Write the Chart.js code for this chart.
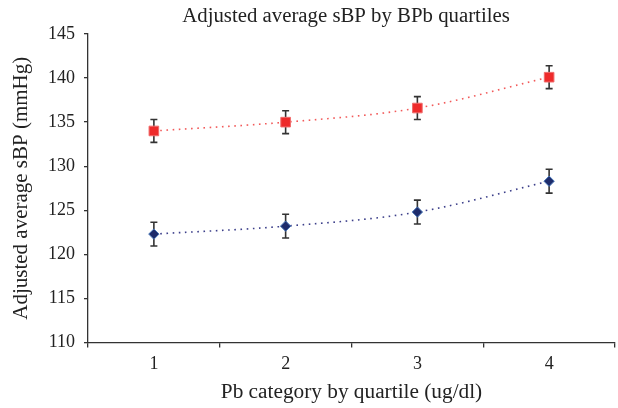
<!DOCTYPE html>
<html>
<head>
<meta charset="utf-8">
<script src="https://cdn.jsdelivr.net/npm/chart.js@4/dist/chart.umd.min.js"></script>
<style>
  html, body { margin: 0; padding: 0; background: #fff; }
  #wrap { width: 618px; height: 408px; position: relative; }
</style>
</head>
<body>
<div id="wrap"><canvas id="c" width="618" height="408"></canvas></div>
<script>
const categories = ['1', '2', '3', '4'];
const highSeries = [134.0, 135.0, 136.6, 140.1];
const highErr = [1.3, 1.3, 1.3, 1.3];
const lowSeries = [122.3, 123.2, 124.8, 128.3];
const lowErr = [1.35, 1.35, 1.35, 1.35];
const yTicks = [110, 115, 120, 125, 130, 135, 140, 145];
const titleText = 'Adjusted average sBP by BPb quartiles';
const yTitle = 'Adjusted average sBP (mmHg)';
const xTitle = 'Pb category by quartile (ug/dl)';

const FONT = '"Liberation Serif", "DejaVu Serif", serif';

const errorBars = {
  id: 'errorBars',
  beforeDatasetsDraw(chart) {
    const ctx = chart.ctx;
    const ys = chart.scales.y;
    chart.data.datasets.forEach((ds, di) => {
      const meta = chart.getDatasetMeta(di);
      meta.data.forEach((pt, i) => {
        const v = ds.data[i], e = ds.errors[i];
        const top = ys.getPixelForValue(v + e);
        const bot = ys.getPixelForValue(v - e);
        ctx.save();
        ctx.strokeStyle = '#333';
        ctx.lineWidth = 1.6;
        ctx.beginPath();
        ctx.moveTo(pt.x, top); ctx.lineTo(pt.x, bot);
        ctx.moveTo(pt.x - 3.5, top); ctx.lineTo(pt.x + 3.5, top);
        ctx.moveTo(pt.x - 3.5, bot); ctx.lineTo(pt.x + 3.5, bot);
        ctx.stroke();
        ctx.restore();
      });
    });
  }
};

const centeredTitle = {
  id: 'centeredTitle',
  afterDraw(chart) {
    const ctx = chart.ctx;
    ctx.save();
    ctx.font = '20.8px ' + FONT;
    ctx.fillStyle = '#222';
    ctx.textAlign = 'center';
    ctx.textBaseline = 'middle';
    ctx.fillText(titleText, 346, 17);
    ctx.restore();
  }
};

new Chart(document.getElementById('c'), {
  type: 'line',
  data: {
    labels: categories,
    datasets: [
      {
        data: highSeries,
        errors: highErr,
        borderColor: '#f25a5a',
        borderWidth: 1.6,
        borderDash: [1.6, 4.6],
        tension: 0.35,
        pointStyle: 'rect',
        pointRadius: 6.8,
        pointHoverRadius: 6.8,
        pointBackgroundColor: '#ee2b2b',
        pointBorderColor: '#f06a6a',
        pointBorderWidth: 1
      },
      {
        data: lowSeries,
        errors: lowErr,
        borderColor: '#3c3f8a',
        borderWidth: 1.6,
        borderDash: [1.6, 4.6],
        tension: 0.35,
        pointStyle: 'rectRot',
        pointRadius: 5.2,
        pointHoverRadius: 5.2,
        pointBackgroundColor: '#1e2c6b',
        pointBorderColor: '#4a78b8',
        pointBorderWidth: 1
      }
    ]
  },
  options: {
    responsive: false,
    animation: false,
    devicePixelRatio: 1,
    layout: { autoPadding: false, padding: { top: 34, right: 3, left: 0, bottom: 0 } },
    plugins: {
      legend: { display: false },
      title: { display: false },
      tooltip: { enabled: false }
    },
    scales: {
      x: {
        type: 'category',
        offset: true,
        grid: { offset: true, drawOnChartArea: false, tickLength: 5, color: '#333', lineWidth: 1.3 },
        border: { color: '#333', width: 1.3 },
        ticks: { color: '#222', font: { family: FONT, size: 18 }, padding: 6 },
        title: { display: true, text: xTitle, color: '#222', font: { family: FONT, size: 21.3 }, padding: { top: 4, bottom: 3 } },
        afterFit(s) { s.height = 65.5; s.paddingLeft = 0; s.paddingRight = 0; }
      },
      y: {
        min: 110, max: 145,
        afterBuildTicks(s) { s.ticks = yTicks.map(v => ({ value: v })); },
        grid: { drawOnChartArea: false, tickLength: 4, color: '#333', lineWidth: 1.3 },
        border: { color: '#333', width: 1.3 },
        ticks: { color: '#222', font: { family: FONT, size: 18 }, padding: 9 },
        title: { display: true, text: yTitle, color: '#222', font: { family: FONT, size: 21 }, padding: { top: 9, bottom: 4 } },
        afterFit(s) { s.width = 88; s.paddingTop = 0; s.paddingBottom = 0; }
      }
    }
  },
  plugins: [errorBars, centeredTitle]
});
</script>
</body>
</html>
